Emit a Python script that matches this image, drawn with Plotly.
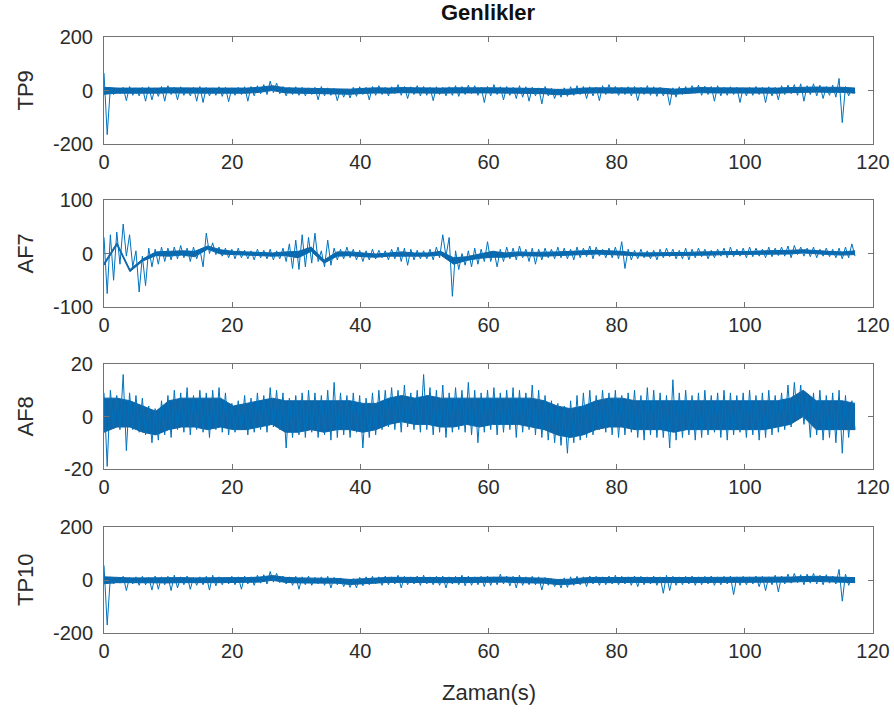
import plotly.graph_objects as go

# ---------------- data ----------------
channel_names = ["TP9", "AF7", "AF8", "TP10"]
y_ranges = [[-200, 200], [-100, 100], [-20, 20], [-200, 200]]
y_ticks = [[-200, 0, 200], [-100, 0, 100], [-20, 0, 20], [-200, 0, 200]]
x_ticks = [0, 20, 40, 60, 80, 100, 120]
t_end = 117.2

# per-second extremes (max / min) of each channel
tp9_hi = [65, 12, 10, 12, 15, 10, 12, 14, 10, 15,
          18, 12, 14, 10, 12, 15, 12, 10, 14, 12,
          10, 12, 14, 15, 18, 22, 35, 28, 15, 12,
          14, 12, 10, 12, 15, 10, 8, 5, 6, 12,
          14, 12, 15, 18, 12, 14, 22, 15, 14, 18,
          15, 12, 14, 12, 14, 18, 15, 20, 18, 12,
          15, 22, 14, 15, 12, 18, 14, 12, 10, 15,
          8, 6, 10, 14, 18, 15, 14, 12, 18, 22,
          15, 12, 14, 15, 12, 18, 14, 12, 8, 10,
          14, 15, 18, 20, 16, 15, 18, 12, 14, 12,
          10, 12, 15, 12, 14, 12, 18, 20, 22, 25,
          18, 25, 20, 15, 20, 45, 15, 10]
tp9_lo = [-165, -15, -12, -38, -18, -20, -40, -35, -22, -40,
          -15, -35, -18, -20, -40, -45, -20, -18, -22, -42,
          -18, -15, -40, -20, -12, -15, -8, -12, -20, -15,
          -18, -20, -15, -35, -20, -18, -38, -25, -28, -22,
          -15, -35, -18, -15, -20, -12, -18, -30, -15, -20,
          -18, -38, -15, -20, -18, -22, -15, -12, -18, -45,
          -20, -15, -35, -18, -30, -25, -40, -20, -50, -20,
          -30, -25, -22, -18, -15, -30, -20, -38, -15, -12,
          -18, -15, -20, -38, -15, -18, -22, -20, -55, -25,
          -15, -12, -10, -18, -15, -40, -20, -18, -15, -45,
          -20, -18, -15, -45, -20, -35, -15, -12, -18, -40,
          -15, -20, -30, -18, -25, -120, -20, -8]

af7_hi = [30, 35, 40, 55, 35, 5, -5, 10, 8, 12,
          10, 12, 15, 10, 12, 8, 38, 20, 12, 10,
          8, 10, 6, 5, 8, 6, 8, 5, 10, 18,
          25, 35, 30, 38, 5, 25, 10, 8, 12, 8,
          6, 5, 8, 6, 5, 8, 12, 10, 8, 6,
          5, 8, 12, 35, 30, 5, 0, 5, 10, 8,
          22, 5, 8, 12, 10, 14, 8, 10, 8, 10,
          8, 12, 10, 8, 12, 10, 14, 12, 8, 10,
          12, 22, 8, 6, 8, 5, 6, 8, 10, 8,
          6, 10, 8, 10, 8, 6, 8, 10, 12, 8,
          10, 12, 10, 8, 12, 10, 12, 14, 15, 12,
          10, 12, 8, 10, 8, 10, 12, 18]
af7_lo = [-75, -50, -20, -5, -25, -72, -60, -25, -20, -15,
          -12, -10, -8, -15, -10, -25, 0, -2, -5, -8,
          -10, -8, -10, -12, -8, -10, -12, -10, -15, -28,
          -30, -25, -18, -15, -25, -22, -12, -10, -8, -12,
          -15, -12, -10, -8, -12, -10, -15, -22, -12, -10,
          -10, -12, -8, -5, -80, -30, -22, -25, -20, -15,
          -15, -25, -15, -10, -12, -8, -15, -20, -12, -8,
          -10, -8, -10, -12, -8, -6, -10, -5, -8, -8,
          -10, -28, -12, -10, -8, -10, -12, -8, -6, -10,
          -10, -12, -8, -6, -10, -8, -5, -8, -6, -5,
          -8, -6, -5, -8, -6, -4, -5, -8, -2, -5,
          -6, -8, -5, -6, -8, -10, -8, -5]

af8_hi = [9, 10, 8, 16, 9, 8, 7, 4, 3, 6,
          8, 10, 9, 11, 8, 10, 9, 10, 11, 9,
          5, 6, 8, 7, 9, 8, 11, 10, 9, 7,
          8, 9, 10, 9, 8, 10, 13, 9, 8, 9,
          8, 7, 9, 10, 10, 11, 10, 12, 9, 10,
          16, 11, 10, 12, 9, 11, 10, 13, 10, 9,
          10, 11, 9, 10, 11, 10, 9, 12, 10, 8,
          6, 5, 4, 6, 8, 9, 10, 8, 10, 9,
          10, 8, 9, 10, 8, 11, 10, 9, 8, 14,
          9, 10, 8, 9, 10, 8, 9, 10, 9, 8,
          9, 10, 8, 9, 10, 8, 9, 12, 13, 12,
          8, 9, 10, 8, 9, 10, 8, 6]
af8_lo = [-19, -4, -5, -13, -5, -6, -7, -10, -9, -7,
          -8, -5, -6, -7, -5, -6, -8, -5, -6, -7,
          -6, -5, -7, -6, -5, -6, -4, -5, -12, -8,
          -7, -8, -6, -8, -7, -9, -8, -7, -8, -6,
          -12, -8, -7, -5, -4, -5, -6, -4, -5, -6,
          -5, -7, -6, -8, -6, -5, -6, -7, -10, -6,
          -5, -7, -6, -5, -8, -6, -5, -7, -8, -9,
          -10, -11, -14, -10, -9, -8, -7, -5, -6, -7,
          -8, -7, -6, -8, -9, -7, -8, -8, -12, -9,
          -8, -7, -9, -8, -7, -6, -8, -9, -7, -6,
          -8, -7, -9, -8, -7, -6, -5, -4, -1, -3,
          -8, -7, -9, -8, -10, -14, -8, -5]

tp10_hi = [55, 12, 10, 14, 10, 12, 14, 10, 15, 12,
           14, 18, 12, 15, 10, 12, 14, 18, 12, 10,
           14, 12, 15, 12, 18, 20, 32, 25, 15, 12,
           14, 12, 15, 10, 12, 14, 10, 8, 2, 5,
           10, 12, 14, 12, 15, 12, 18, 14, 12, 15,
           18, 12, 14, 15, 12, 14, 18, 15, 12, 14,
           15, 12, 22, 15, 14, 18, 12, 14, 12, 10,
           5, 2, 8, 12, 14, 12, 15, 14, 12, 15,
           18, 14, 12, 15, 14, 12, 15, 12, 18, 14,
           12, 14, 15, 12, 14, 15, 12, 14, 15, 12,
           14, 12, 15, 14, 12, 18, 15, 22, 25, 20,
           22, 25, 18, 20, 15, 40, 22, 10]
tp10_lo = [-170, -15, -12, -40, -15, -20, -18, -38, -35, -18,
           -40, -30, -18, -35, -20, -18, -38, -22, -18, -15,
           -18, -35, -15, -20, -12, -15, -8, -10, -15, -20,
           -35, -18, -20, -15, -20, -30, -18, -25, -28, -30,
           -22, -18, -15, -20, -18, -15, -30, -18, -15, -20,
           -15, -18, -20, -30, -15, -18, -22, -20, -18, -25,
           -20, -18, -15, -22, -30, -20, -18, -18, -38, -20,
           -25, -30, -28, -20, -18, -25, -15, -20, -18, -15,
           -18, -15, -20, -25, -18, -15, -20, -50, -40, -20,
           -18, -15, -20, -18, -15, -20, -18, -15, -55, -20,
           -18, -15, -25, -40, -18, -45, -15, -12, -10, -18,
           -12, -15, -18, -12, -15, -80, -20, -8]

# dense core of each trace, every 2 s (upper / lower edge)
tp9_core_hi = [12, 9, 9, 8, 9, 10, 9, 8, 9, 9, 9, 9, 12, 18, 10, 9, 8, 7, 4, 5,
               8, 10, 9, 11, 10, 9, 9, 10, 11, 10, 10, 10, 9, 8, 7, 4, 5, 9, 10, 10,
               10, 9, 10, 9, 5, 7, 11, 10, 10, 9, 8, 9, 9, 11, 13, 13, 12, 12, 9]
tp9_core_lo = [-14, -10, -10, -11, -10, -9, -10, -11, -10, -10, -10, -10, -7, 0, -9, -10, -11, -12, -15, -14,
               -11, -9, -10, -8, -9, -10, -10, -9, -8, -9, -9, -9, -10, -11, -12, -16, -14, -10, -9, -9,
               -9, -10, -9, -10, -14, -12, -8, -9, -9, -10, -11, -10, -10, -8, -6, -6, -7, -7, -10]

af7_core_hi = [-18, 20, -30, -10, 3, 4, 5, 4, 14, 7, 4, 3, 2, 1, 3, 4, 12, -12, 3, 3,
               1, -1, 1, 3, 1, 1, 4, -8, -6, -1, 4, 1, 3, 2, 2, 3, 4, 5, 6, 5,
               4, 1, 1, 1, 2, 2, 3, 3, 4, 4, 4, 5, 5, 6, 7, 5, 4, 3, 5]
af7_core_lo = [-22, 16, -34, -14, -4, -5, -3, -6, 8, -1, -2, -3, -4, -5, -4, -8, 4, -18, -5, -4,
               -6, -7, -5, -5, -5, -5, -3, -20, -13, -9, -7, -7, -4, -5, -5, -4, -3, -2, -1, -2,
               -3, -5, -5, -4, -4, -3, -3, -3, -2, -2, -2, -1, -1, -1, 1, -1, -2, -3, -2]

af8_core_hi = [7, 7, 6, 4, 2, 6, 7, 7, 7, 7, 4, 5, 6, 7, 6, 6, 6, 6, 6, 6,
               5, 5, 7, 8, 7, 8, 7, 7, 7, 7, 7, 7, 7, 7, 6, 4, 3, 4, 6, 7,
               7, 6, 6, 6, 6, 6, 6, 6, 6, 6, 6, 6, 6, 7, 10, 6, 6, 6, 5]
af8_core_lo = [-6, -4, -4, -6, -7, -5, -4, -4, -5, -4, -5, -5, -4, -3, -6, -6, -5, -6, -5, -5,
               -6, -5, -3, -2, -3, -3, -4, -4, -3, -4, -3, -3, -3, -4, -5, -7, -8, -7, -5, -4,
               -4, -5, -5, -5, -6, -5, -5, -5, -5, -5, -5, -5, -4, -3, 0, -5, -5, -5, -5]

tp10_core_hi = [12, 9, 8, 8, 9, 9, 9, 8, 9, 9, 9, 9, 11, 17, 10, 8, 8, 8, 6, 2,
                5, 9, 10, 10, 9, 10, 9, 9, 10, 9, 10, 11, 9, 9, 7, 2, 3, 8, 10, 9,
                10, 10, 9, 9, 9, 9, 9, 10, 9, 9, 9, 9, 10, 11, 13, 14, 12, 11, 9]
tp10_core_lo = [-14, -10, -10, -11, -10, -11, -10, -11, -10, -10, -10, -10, -8, -1, -9, -11, -11, -11, -12, -17,
                -14, -10, -9, -9, -10, -9, -10, -10, -9, -10, -9, -8, -10, -10, -12, -17, -16, -11, -9, -10,
                -9, -9, -10, -10, -10, -10, -10, -9, -10, -10, -10, -10, -9, -8, -6, -5, -7, -8, -10]

series_hi = [tp9_hi, af7_hi, af8_hi, tp10_hi]
series_lo = [tp9_lo, af7_lo, af8_lo, tp10_lo]
core_hi = [tp9_core_hi, af7_core_hi, af8_core_hi, tp10_core_hi]
core_lo = [tp9_core_lo, af7_core_lo, af8_core_lo, tp10_core_lo]

# ---------------- layout geometry (page pixels) ----------------
W, H = 894, 717
x_left, x_right = 104, 873
rows_px = [(37, 144), (200, 307), (364, 469), (527, 633)]

LINE_COLOR = "#0072BD"
CORE_COLOR = "#0e66a8"
FRAME = "#737373"
TEXT = "#2b2b2b"
FONT = "Liberation Sans, Arial, sans-serif"


def core_times(n):
    return [i * t_end / (n - 1) for i in range(n)]


def zigzag(hi, lo):
    n = len(hi)
    dt = t_end / (n - 0.5)
    xs, ys = [], []
    for i in range(n):
        xs.extend([i * dt, i * dt + 0.5 * dt])
        ys.extend([hi[i], lo[i]])
    return xs, ys


fig = go.Figure()
layout = dict(
    width=W, height=H,
    margin=dict(l=0, r=0, t=0, b=0),
    paper_bgcolor="white", plot_bgcolor="white",
    showlegend=False,
    font=dict(family=FONT, color=TEXT, size=20),
)
annotations = []

for k in range(4):
    sfx = "" if k == 0 else str(k + 1)
    tc = core_times(len(core_hi[k]))
    fig.add_trace(go.Scatter(x=tc, y=core_lo[k], mode="lines",
                             line=dict(color=CORE_COLOR, width=1),
                             xaxis="x" + sfx, yaxis="y" + sfx, hoverinfo="skip"))
    fig.add_trace(go.Scatter(x=tc, y=core_hi[k], mode="lines",
                             line=dict(color=CORE_COLOR, width=1),
                             fill="tonexty", fillcolor=CORE_COLOR,
                             xaxis="x" + sfx, yaxis="y" + sfx, hoverinfo="skip"))
    xs, ys = zigzag(series_hi[k], series_lo[k])
    fig.add_trace(go.Scatter(x=xs, y=ys, mode="lines",
                             line=dict(color=LINE_COLOR, width=1),
                             xaxis="x" + sfx, yaxis="y" + sfx, hoverinfo="skip"))

    top, bot = rows_px[k]
    ydom = [1 - bot / H, 1 - top / H]
    common = dict(showline=True, linecolor=FRAME, linewidth=1, mirror="ticks",
                  ticks="inside", ticklen=5, tickcolor=FRAME, tickwidth=1,
                  showgrid=False, zeroline=False, automargin=False,
                  tickfont=dict(family=FONT, size=20, color=TEXT))
    layout["xaxis" + sfx] = dict(
        common, domain=[x_left / W, x_right / W], range=[0, 120],
        tickvals=x_ticks, ticktext=[str(v) for v in x_ticks],
        anchor="y" + sfx)
    layout["yaxis" + sfx] = dict(
        common, domain=ydom, range=y_ranges[k],
        tickvals=y_ticks[k], ticktext=[str(v) for v in y_ticks[k]],
        anchor="x" + sfx, ticklabelstandoff=6)
    annotations.append(dict(
        text=channel_names[k], textangle=-90, showarrow=False,
        xref="paper", yref="paper", x=25 / W, y=(ydom[0] + ydom[1]) / 2,
        xanchor="center", yanchor="middle",
        font=dict(family=FONT, size=22, color=TEXT)))

annotations.append(dict(
    text="<b>Genlikler</b>", showarrow=False, xref="paper", yref="paper",
    x=(x_left + x_right) / 2 / W, y=1 - 13 / H, xanchor="center", yanchor="middle",
    font=dict(family=FONT, size=22, color="#111111")))
annotations.append(dict(
    text="Zaman(s)", showarrow=False, xref="paper", yref="paper",
    x=(x_left + x_right) / 2 / W, y=1 - 692 / H, xanchor="center", yanchor="middle",
    font=dict(family=FONT, size=22, color=TEXT)))

layout["annotations"] = annotations
fig.update_layout(**layout)
fig.write_html("out.html")
